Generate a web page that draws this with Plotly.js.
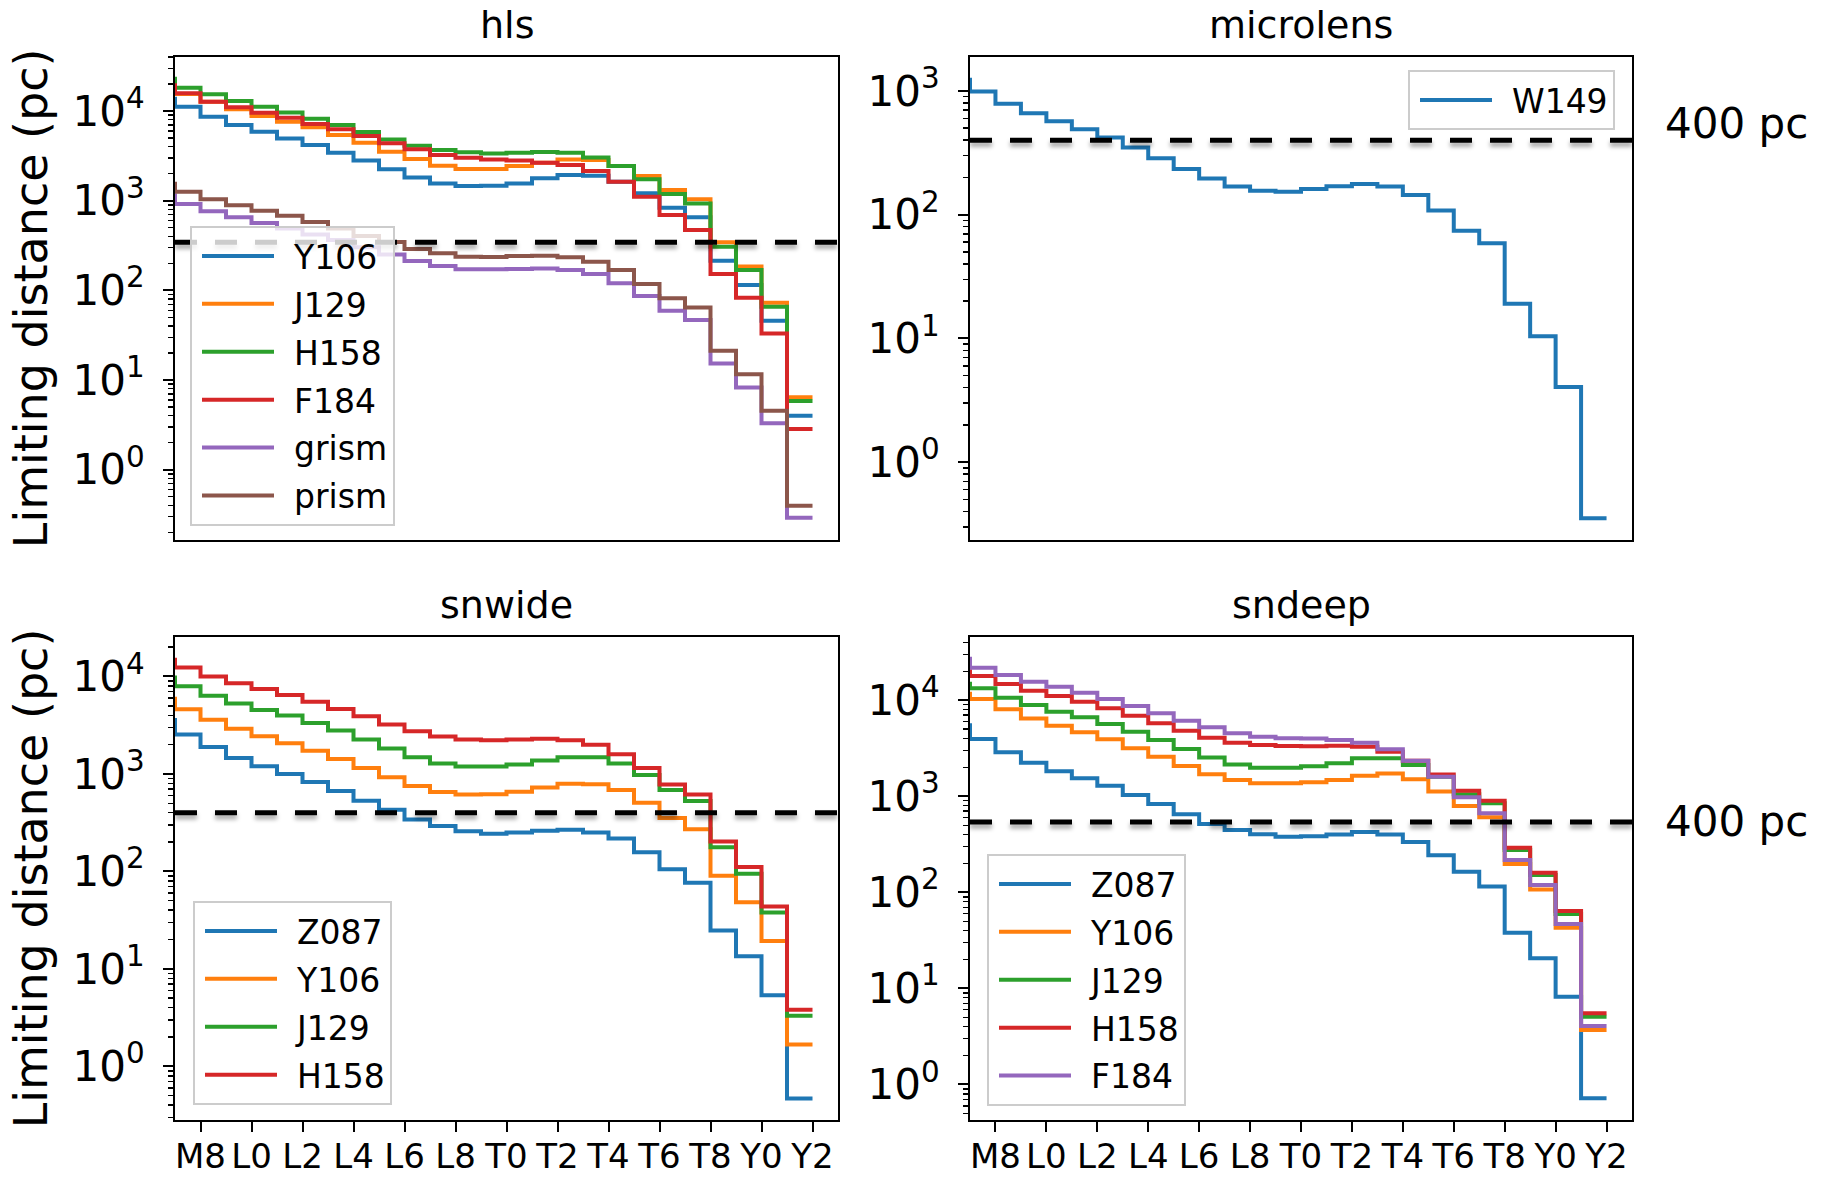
<!DOCTYPE html>
<html><head><meta charset="utf-8">
<script src="https://cdn.plot.ly/plotly-3.0.1.min.js"></script>
<style>body{margin:0;background:#fff}</style>
</head><body>
<div id="chart" style="width:1832px;height:1178px"></div>
<script>
// Spectral type codes: M7=17 ... Y2=42 (M=10s, L=20s, T=30s, Y=40s)
const spectralCodes = [17,18,19,20,21,22,23,24,25,26,27,28,29,30,31,32,33,34,35,36,37,38,39,40,41,42];
const xTickVals = [18,20,22,24,26,28,30,32,34,36,38,40,42];
const xTickLabels = ['M8','L0','L2','L4','L6','L8','T0','T2','T4','T6','T8','Y0','Y2'];
const yTickVals = [1,10,100,1000,10000];
const yTickLabels = ['10<sup>0</sup>','10<sup>1</sup>','10<sup>2</sup>','10<sup>3</sup>','10<sup>4</sup>'];
const panelTitles = ['hls','microlens','snwide','sndeep'];
const thresholds = [345, 400, 400, 540];   // dashed limit lines (pc)
const xRange = [17, 43];

// hls
const hlsY106  = [14450,11170,8650,6980,5890,4950,4180,3430,2800,2240,1810,1560,1460,1470,1560,1780,1930,1900,1630,1210,836,652,214,115,45.9,4.0];
const hlsJ129  = [20000,15500,12710,10440,8790,7600,6580,5400,4430,3520,2920,2460,2260,2260,2440,2650,2890,2840,2440,1880,1320,1040,343,184,72.8,6.41];
const hlsH158  = [24150,18200,15350,12930,11170,9660,8210,6980,5840,4830,4110,3670,3460,3370,3430,3490,3430,3040,2440,1730,1190,933,307,169,65.7,5.83];
const hlsF184  = [20370,15740,12710,10990,9580,8430,7160,6250,5260,4360,3740,3230,3020,2890,2800,2650,2500,2140,1630,1110,692,471,152,82.8,33.1,2.84];
const hlsGrism = [1210,918,761,652,563,491,421,364,302,252,213,187,172,172,173,175,169,152,120,86.5,59.3,46.7,15.3,8.28,3.29,0.292];
const hlsPrism = [1630,1260,1040,887,774,680,578,491,404,346,289,259,237,235,241,244,234,209,169,118,81.5,64.6,21.2,11.6,4.55,0.397];
// microlens
const microW149 = [1281,988,790,661,569,491,421,349,286,234,196,169,156,153,161,170,177,169,144,108,74.3,58.7,19.1,10.4,4.05,0.352];
// snwide
const snwZ087 = [3740,2540,1890,1460,1200,1000,824,668,532,428,341,293,258,244,250,261,267,250,217,157,105,76.4,24.8,13.5,5.37,0.466];
const snwY106 = [6200,4620,3590,2910,2440,2060,1730,1420,1150,927,751,651,614,620,657,727,791,784,685,506,352,270,90.4,48.1,19.3,1.67];
const snwJ129 = [10260,7960,6350,5280,4540,3970,3330,2790,2260,1820,1480,1280,1190,1190,1250,1370,1480,1480,1280,975,685,528,177,94.3,37.8,3.30];
const snwH158 = [15600,12330,10000,8530,7450,6460,5510,4650,3900,3220,2740,2420,2260,2220,2260,2300,2220,1990,1590,1150,778,614,203,111,43.5,3.80];
// sndeep
const sndZ087 = [5750,3960,2870,2240,1830,1540,1290,1030,832,649,515,446,402,380,383,400,426,400,334,243,164,115,38.0,20.6,8.2,0.72];
const sndY106 = [12300,10310,8050,6480,5440,4640,3920,3160,2590,2070,1700,1480,1370,1370,1400,1480,1640,1730,1510,1120,792,604,197,107,42.9,3.69];
const sndJ129 = [15630,13310,10650,8940,7610,6640,5660,4710,3860,3110,2530,2150,1990,1990,2060,2210,2490,2490,2120,1600,1050,846,276,152,59.6,5.08];
const sndH158 = [21000,17910,14790,12590,11090,9680,8250,6920,5750,4830,4080,3620,3420,3340,3320,3370,3290,2920,2350,1690,1140,901,292,160,64.0,5.50];
const sndF184 = [28440,21860,18340,15630,13870,12000,10310,8720,7310,6140,5230,4530,4180,4020,4000,3860,3620,3090,2350,1600,976,665,217,119,46.9,4.07];

const colors = ['#1f77b4','#ff7f0e','#2ca02c','#d62728','#9467bd','#8c564b'];

const panels = [
  {names:['Y106','J129','H158','F184','grism','prism'], series:[hlsY106,hlsJ129,hlsH158,hlsF184,hlsGrism,hlsPrism]},
  {names:['W149'], series:[microW149]},
  {names:['Z087','Y106','J129','H158'], series:[snwZ087,snwY106,snwJ129,snwH158]},
  {names:['Z087','Y106','J129','H158','F184'], series:[sndZ087,sndY106,sndJ129,sndH158,sndF184]}
];

const traces = [];
panels.forEach((p, i) => {
  const ax = i === 0 ? '' : String(i + 1);
  const leg = i === 0 ? 'legend' : 'legend' + (i + 1);
  p.series.forEach((ys, j) => {
    traces.push({
      x: spectralCodes, y: ys, name: p.names[j], mode: 'lines',
      line: {shape: 'vh', color: colors[j], width: 4},
      xaxis: 'x' + ax, yaxis: 'y' + ax, legend: leg,
      legendgroup: 'g' + i + '_' + j, hoverinfo: 'skip'
    });
  });
  traces.push({
    x: xRange, y: [thresholds[i], thresholds[i]], mode: 'lines', showlegend: false,
    line: {color: 'black', width: 5, dash: '22px,18px'},
    xaxis: 'x' + ax, yaxis: 'y' + ax, hoverinfo: 'skip'
  });
});

const minorVals = [];
for (let k = -1; k <= 4; k++) for (let m = 2; m <= 9; m++) minorVals.push(m * Math.pow(10, k));

const W = 1832, H = 1178;
const colX = [[175/W, 838/W], [970/W, 1632/W]];
const rowY = [[1 - 540/H, 1 - 56.7/H], [1 - 1120/H, 1 - 637/H]];
const yRanges = [[-0.784, 4.606], [-0.629, 3.277], [-0.551, 4.405], [-0.370, 4.659]];

const layout = {
  width: W, height: H, margin: {l: 0, r: 0, t: 0, b: 0},
  paper_bgcolor: 'white', plot_bgcolor: 'white',
  font: {family: 'DejaVu Sans', color: 'black'},
  annotations: [], showlegend: true
};

panels.forEach((p, i) => {
  const ax = i === 0 ? '' : String(i + 1);
  const col = i % 2, row = Math.floor(i / 2);
  const bottom = row === 1;
  layout['xaxis' + ax] = {
    domain: colX[col], anchor: 'y' + ax, range: xRange, type: 'linear',
    showline: true, mirror: true, linecolor: 'black', linewidth: 2,
    showgrid: false, zeroline: false,
    tickmode: 'array', tickvals: xTickVals, ticktext: xTickLabels,
    ticks: bottom ? 'outside' : '', ticklen: 10, tickwidth: 2, tickcolor: 'black',
    showticklabels: bottom, tickfont: {size: 34, family: 'DejaVu Sans'},
    ticklabelstandoff: -5
  };
  const yax = {
    domain: rowY[row], anchor: 'x' + ax, type: 'log', range: yRanges[i],
    showline: true, mirror: true, linecolor: 'black', linewidth: 2,
    showgrid: false, zeroline: false,
    tickmode: 'array', tickvals: yTickVals, ticktext: yTickLabels,
    ticks: 'outside', ticklen: 10, tickwidth: 2, tickcolor: 'black',
    tickfont: {size: 42, family: 'DejaVu Sans'}, ticklabelstandoff: 10,
    minor: {tickmode: 'array', tickvals: minorVals, ticks: 'outside', ticklen: 5, tickwidth: 1.5, tickcolor: 'black', showgrid: false}
  };
  if (col === 0) yax.title = {text: 'Limiting distance (pc)', font: {size: 46, family: 'DejaVu Sans'}, standoff: 10};
  layout['yaxis' + ax] = yax;
  layout.annotations.push({
    text: panelTitles[i], xref: 'x' + ax + ' domain', yref: 'y' + ax + ' domain',
    x: 0.5, y: 1, xanchor: 'center', yanchor: 'bottom', yshift: 8, showarrow: false,
    font: {size: 38, family: 'DejaVu Sans', color: 'black'}
  });
});

layout.annotations.push({text: '400 pc', xref: 'paper', yref: 'paper', x: 1663/W, y: 1 - 123/H, xanchor: 'left', yanchor: 'middle', showarrow: false, font: {size: 42, family: 'DejaVu Sans'}});
layout.annotations.push({text: '400 pc', xref: 'paper', yref: 'paper', x: 1663/W, y: 1 - 821/H, xanchor: 'left', yanchor: 'middle', showarrow: false, font: {size: 42, family: 'DejaVu Sans'}});

const legendBase = {bgcolor: 'rgba(255,255,255,0.8)', bordercolor: '#cccccc', borderwidth: 2,
  font: {size: 33, family: 'DejaVu Sans'}, tracegroupgap: 2, itemwidth: 92, xanchor: 'left', yanchor: 'top'};
layout.legend  = Object.assign({}, legendBase, {x: 190/W, y: 1 - 226/H});
layout.legend2 = Object.assign({}, legendBase, {x: 1615/W, xanchor: 'right', y: 1 - 70/H});
layout.legend3 = Object.assign({}, legendBase, {x: 193/W, y: 1 - 901/H});
layout.legend4 = Object.assign({}, legendBase, {x: 987/W, y: 1 - 854/H});

const gd = document.getElementById('chart');
Plotly.newPlot(gd, traces, layout, {staticPlot: true}).then(() => {
  // shadow under dashed limit lines (last trace of each subplot)
  gd.querySelectorAll('.scatterlayer').forEach(layer => {
    const tr = layer.querySelectorAll('.trace');
    if (tr.length) {
      const last = tr[tr.length - 1];
      last.querySelectorAll('path.js-line').forEach(pth => {
        pth.style.filter = 'drop-shadow(0px 4px 2px rgba(0,0,0,0.35))';
      });
    }
  });
  // longer legend line samples (matplotlib-like)
  gd.querySelectorAll('.legendlines path').forEach(pth => pth.setAttribute('d', 'M10,0h72'));
});
</script>
</body></html>
